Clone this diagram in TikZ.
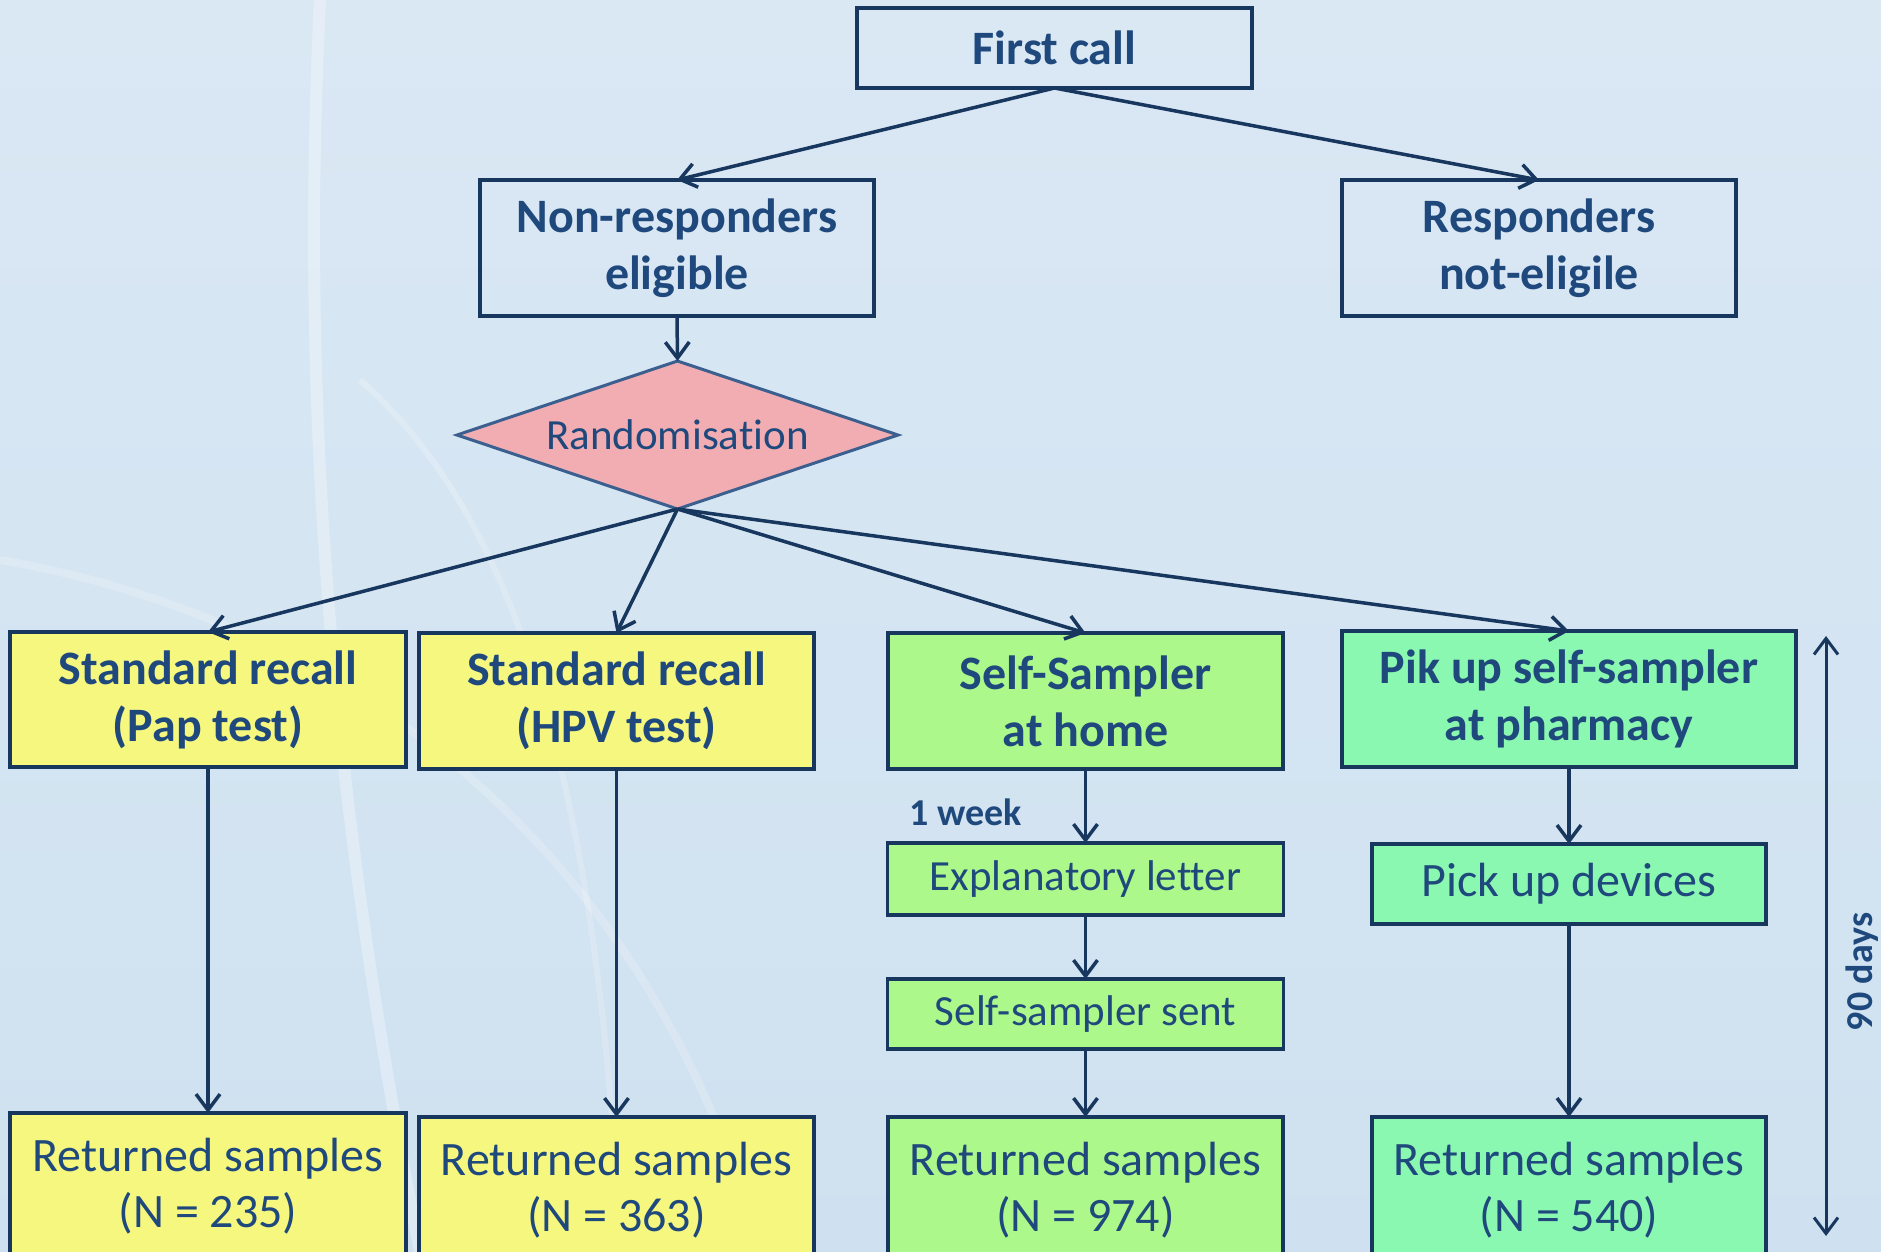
\documentclass[tikz,border=0pt]{standalone}
\usepackage{fontspec}
\setmainfont{Carlito}[Ligatures=NoCommon]
\usetikzlibrary{shapes.geometric,arrows.meta}
\definecolor{txt}{HTML}{1F497D}
\definecolor{edge}{HTML}{17375E}
\definecolor{bgtop}{HTML}{DAE8F4}
\definecolor{bgbot}{HTML}{CFE1F0}
\definecolor{yel}{HTML}{F5F77F}
\definecolor{grn}{HTML}{ADF88A}
\definecolor{aqua}{HTML}{8BF8B1}
\definecolor{pink}{HTML}{F2ADB2}
\definecolor{dedge}{HTML}{3B6090}
\begin{document}
\begin{tikzpicture}[x=1pt,y=-1pt,
  box/.style={rectangle, draw=edge, line width=3.5pt, text=txt, align=center, inner sep=0pt, outer sep=0pt},
  hdr/.style={box, font=\bfseries\fontsize{48}{57}\selectfont},
  plain/.style={box, font=\fontsize{48}{56}\selectfont},
  small/.style={box, font=\fontsize{43}{50}\selectfont},
  conn/.style={draw=edge, line width=3.5pt, -{Straight Barb[length=16pt,width=24pt]}},
  lbl/.style={text=txt, font=\bfseries\fontsize{38}{44}\selectfont, inner sep=0pt}
]
\useasboundingbox (0,0) rectangle (1881,1251);
\clip (0,0) rectangle (1881,1251);
% background
\shade[top color=bgtop, bottom color=bgbot] (0,0) rectangle (1881,1251);
\draw[white, opacity=0.3, line width=12pt] (320,0) .. controls (300,400) and (330,800) .. (420,1251);
\draw[white, opacity=0.2, line width=8pt] (0,560) .. controls (350,620) and (650,850) .. (760,1251);
\draw[white, opacity=0.2, line width=6pt] (360,380) .. controls (520,520) and (600,800) .. (620,1251);

% nodes
\node[hdr, minimum width=395, minimum height=80] (first) at (1054.5,48) {First call};
\node[hdr, minimum width=394, minimum height=136] (nonresp) at (677,248) {Non-responders\\eligible};
\node[hdr, minimum width=394, minimum height=136] (resp) at (1539,248) {Responders\\not-eligile};
\node[diamond, aspect=2.98, draw=dedge, line width=3pt, fill=pink, text=txt, inner sep=0pt, outer sep=0pt,
      minimum width=441, minimum height=148, font=\fontsize{43}{50}\selectfont] (rand) at (677.5,435) {Randomisation};

\node[hdr, fill=yel, minimum width=396, minimum height=135] (pap) at (208,699.5) {Standard recall\\(Pap test)};
\node[hdr, fill=yel, minimum width=395, minimum height=136] (hpv) at (616.5,701) {Standard recall\\(HPV test)};
\node[hdr, fill=grn, minimum width=395, minimum height=136] (home) at (1085.5,701) {Self-Sampler\\at home};
\node[hdr, fill=aqua, minimum width=454, minimum height=136] (pik) at (1569,699) {Pik up self-sampler\\at pharmacy};

\node[small, fill=grn, minimum width=396, minimum height=72] (letter) at (1085.5,879) {Explanatory letter};
\node[small, fill=grn, minimum width=396, minimum height=70] (sent) at (1085.5,1014) {Self-sampler sent};
\node[plain, fill=aqua, minimum width=394, minimum height=80] (devices) at (1569,884) {Pick up devices};

\node[plain, fill=yel, minimum width=396, minimum height=146] (ret1) at (208,1186) {Returned samples\\(N = 235)};
\node[plain, fill=yel, minimum width=395, minimum height=146] (ret2) at (616.5,1190) {Returned samples\\(N = 363)};
\node[plain, fill=grn, minimum width=395, minimum height=146] (ret3) at (1085.5,1190) {Returned samples\\(N = 974)};
\node[plain, fill=aqua, minimum width=394, minimum height=146] (ret4) at (1569,1190) {Returned samples\\(N = 540)};

\node[lbl] (week) at (966,812) {1 week};
\node[lbl, rotate=90] (days) at (1862,972) {90 days};
\coordinate (dtop) at (1826,636);
\coordinate (dbot) at (1826,1236);

% connectors
\draw[conn] (first.south) -- (nonresp.north);
\draw[conn] (first.south) -- (resp.north);
\draw[conn] (nonresp.south) -- (rand.north);
\draw[conn] (rand.south) -- (pap.north);
\draw[conn] (rand.south) -- (hpv.north);
\draw[conn] (rand.south) -- (home.north);
\draw[conn] (rand.south) -- (pik.north);
\draw[conn] (pap.south) -- (ret1.north);
\draw[conn] (hpv.south) -- (ret2.north);
\draw[conn] (home.south) -- (letter.north);
\draw[conn] (letter.south) -- (sent.north);
\draw[conn] (sent.south) -- (ret3.north);
\draw[conn] (pik.south) -- (devices.north);
\draw[conn] (devices.south) -- (ret4.north);
\draw[draw=edge, line width=3pt, {Straight Barb[length=16pt,width=24pt]}-{Straight Barb[length=16pt,width=24pt]}] (dtop) -- (dbot);
\end{tikzpicture}
\end{document}
